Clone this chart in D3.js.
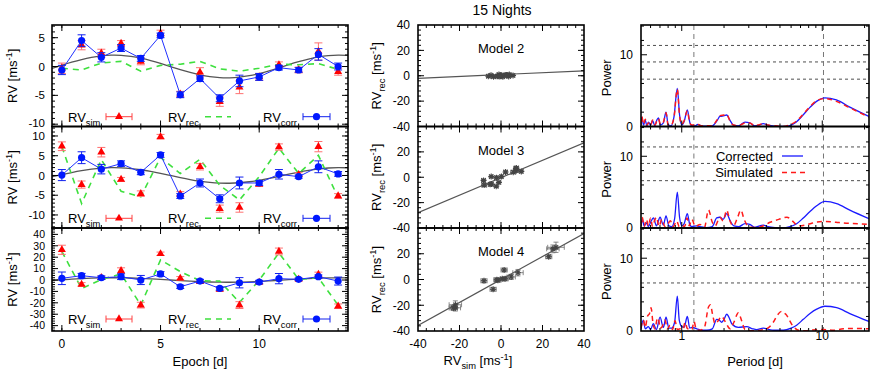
<!DOCTYPE html>
<meta charset="utf-8">
<style>
  body { margin: 0; background: #fff; }
  text { font-family: "Liberation Sans", Arial, sans-serif; fill: #000; }
</style>
<body>
</body>
<script src="https://d3js.org/d3.v7.min.js"></script>
<script>

// ---- data ----
var epochs = [0, 1, 2, 3, 4, 5, 6, 7, 8, 9, 10, 11, 12, 13, 14];
var modelNames = ["Model 2", "Model 3", "Model 4"];

var sim2    = [-0.3, 3.7, 2.3, 4.0, 0.9, 5.8, -4.8, -1.0, -6.1, -3.6, -1.8, 0.3, -0.6, 2.6, -0.9];
var sim2Err = [0.9, 0.8, 0.7, 0.5, 0.6, 0.5, 0.5, 0.8, 0.8, 1.1, 0.6, 0.5, 0.5, 1.5, 0.6];
var corr2   = [-0.6, 4.5, 1.6, 3.2, 1.4, 5.4, -4.9, -2.1, -5.5, -2.5, -1.8, -0.2, -0.6, 2.1, 0.0];
var corr2Err= [0.8, 1.0, 0.8, 0.6, 0.5, 0.4, 0.5, 0.5, 0.6, 1.0, 0.6, 0.4, 0.4, 1.0, 0.6];
var rec2    = [-0.3, -0.6, 0.6, 0.9, -0.8, 0.2, 0.4, 0.9, -0.4, -0.8, -0.3, 0.4, 0.3, 0.5, -0.5];

var sim3    = [7.4, -2.3, 5.9, -1.0, -4.6, 9.8, -4.7, 2.2, -8.4, -8.1, -2.2, 7.2, 0.2, 7.3, -5.2];
var sim3Err = [1.1, 0.9, 1.2, 0.5, 0.7, 0.6, 0.6, 0.8, 0.9, 1.2, 0.6, 0.8, 0.5, 1.3, 0.6];
var corr3   = [0.1, 4.5, 1.6, 3.0, 0.8, 5.2, -5.2, -1.9, -5.9, -1.9, -1.9, 0.3, -0.3, 2.2, 0.4];
var corr3Err= [1.4, 1.5, 1.2, 0.7, 0.6, 0.6, 0.6, 1.0, 1.0, 1.5, 0.6, 1.2, 0.4, 1.5, 0.6];
var rec3    = [7.3, -7.1, 4.0, -4.0, -5.4, 4.6, 0.5, 4.1, -2.5, -6.2, -0.3, 6.9, 0.5, 5.1, -5.6];

var sim4    = [26.5, -3.8, 2.0, 8.2, -22.0, 23.0, 1.5, -1.5, -8.2, -22.0, -2.0, 25.0, 0.6, 4.9, -23.0];
var sim4Err = [4, 1.5, 1.5, 2.5, 2.5, 1.5, 1.5, 1.5, 1.5, 3, 1.5, 3, 1, 2, 2];
var corr4   = [1.5, 3.8, 2.0, 2.9, 0.0, 5.3, -5.9, -0.9, -7.4, -2.4, -1.8, 1.2, 0.6, 2.9, -0.9];
var corr4Err= [5.5, 2, 1.5, 2.5, 4, 2, 1.5, 1.5, 1.5, 4.5, 1.5, 4.5, 1, 1.5, 3.5];
var rec4    = [25.0, -7.6, 0.5, 5.3, -22.0, 17.7, 7.4, -0.6, -1.0, -19.6, -0.2, 23.8, 0.5, 2.0, -22.1];

// grey model curve (same signal in the three left panels)
var curveT = [-0.5, 0, 0.5, 1, 1.5, 2, 2.5, 3, 3.5, 4, 4.5, 5, 5.5, 6, 6.5, 7, 7.5, 8, 8.5, 9, 9.5, 10, 10.5, 11, 11.5, 12, 12.5, 13, 13.5, 14, 14.5];
var curveV = [-0.33, 0.22, 0.75, 1.23, 1.61, 1.87, 1.99, 1.96, 1.78, 1.47, 1.05, 0.55, 0, -0.54, -1.05, -1.47, -1.78, -1.96, -1.99, -1.87, -1.61, -1.23, -0.76, -0.22, 0.33, 0.85, 1.31, 1.69, 1.91, 2.0, 1.94];

// fitted lines in the middle column: value at RV_sim = -40 and +40
var fitLo = [-2.0, -28.0, -35.7];
var fitHi = [3.9, 27.2, 35.7];

// periodograms [period (d), power]
var pgCorr2 = [[0.513,0.3],[0.52,1.3],[0.535,0.2],[0.55,0.9],[0.565,0.1],[0.58,0.6],[0.6,0.2],[0.62,0.8],[0.645,0.1],[0.665,0.9],[0.682,1.2],[0.705,0.2],[0.74,0.5],[0.773,2.0],[0.80,0.3],[0.84,0.1],[0.88,1.3],[0.93,5.3],[0.965,1.6],[1.0,0.2],[1.04,0.7],[1.096,2.3],[1.14,0.6],[1.18,0.1],[1.25,0.1],[1.3,0.3],[1.38,0.1],[1.5,0.05],[1.65,0.1],[1.78,0.8],[1.87,1.4],[2.0,1.5],[2.09,1.6],[2.2,0.9],[2.33,0.2],[2.53,0.1],[2.82,0.6],[3.05,0.5],[3.3,0.1],[3.5,0.15],[3.8,0.4],[4.1,0.2],[4.6,0.05],[5.2,0.0],[5.8,0.1],[6.5,0.6],[7.3,1.6],[8.2,2.7],[9.1,3.5],[10.45,4.0],[12.6,3.7],[15.7,2.7],[21.5,1.4]];
var pgSim2 = [[0.513,0.2],[0.52,1.4],[0.535,0.3],[0.55,1.0],[0.565,0.2],[0.58,0.5],[0.6,0.1],[0.62,0.9],[0.645,0.2],[0.665,0.8],[0.682,1.1],[0.705,0.3],[0.74,0.6],[0.773,1.9],[0.80,0.2],[0.84,0.2],[0.88,1.2],[0.93,5.2],[0.965,1.5],[1.0,0.3],[1.04,0.8],[1.096,2.2],[1.14,0.5],[1.18,0.2],[1.25,0.2],[1.3,0.3],[1.38,0.1],[1.5,0.1],[1.65,0.1],[1.78,0.9],[1.87,1.5],[2.0,1.6],[2.09,1.7],[2.2,0.8],[2.33,0.2],[2.53,0.1],[2.82,0.5],[3.05,0.5],[3.3,0.1],[3.5,0.2],[3.8,0.4],[4.1,0.2],[4.6,0.1],[5.2,0.0],[5.8,0.2],[6.5,0.7],[7.3,1.7],[8.2,2.8],[9.1,3.6],[10.45,3.9],[12.6,3.5],[15.7,2.6],[21.5,1.3]];
var pgCorr3 = [[0.513,0.3],[0.525,1.2],[0.54,0.3],[0.56,0.7],[0.58,0.2],[0.6,0.8],[0.63,1.4],[0.66,0.3],[0.701,1.5],[0.74,0.4],[0.773,1.7],[0.81,0.3],[0.85,0.2],[0.89,1.3],[0.93,5.0],[0.965,1.5],[1.0,0.3],[1.04,0.6],[1.096,2.0],[1.14,0.5],[1.18,0.2],[1.28,0.3],[1.35,0.2],[1.5,0.05],[1.65,0.2],[1.773,1.4],[1.87,1.5],[1.97,1.2],[2.09,2.0],[2.2,1.1],[2.35,0.3],[2.55,0.2],[2.82,0.6],[3.05,0.5],[3.3,0.1],[3.8,0.4],[4.1,0.2],[4.6,0.05],[5.2,0.0],[5.9,0.2],[6.57,0.6],[7.33,1.4],[8.18,2.3],[9.12,3.1],[10.45,3.7],[12.65,3.4],[15.7,2.5],[21.5,1.3]];
var pgSim3 = [[0.513,0.3],[0.523,1.5],[0.54,0.2],[0.56,1.2],[0.58,0.3],[0.60,1.4],[0.62,0.2],[0.64,1.0],[0.66,1.5],[0.69,0.2],[0.72,1.2],[0.76,0.2],[0.80,0.6],[0.83,1.0],[0.87,0.2],[0.92,1.0],[0.96,0.2],[1.0,0.4],[1.05,0.2],[1.09,1.4],[1.13,0.3],[1.18,1.2],[1.25,0.2],[1.35,0.5],[1.45,0.1],[1.55,2.5],[1.65,0.8],[1.73,0.3],[1.87,1.5],[1.97,1.0],[2.09,2.5],[2.2,1.0],[2.33,0.3],[2.5,1.5],[2.63,2.5],[2.78,1.2],[2.9,0.5],[3.15,0.1],[3.41,0.05],[3.8,0.3],[4.25,0.8],[4.9,1.2],[5.6,1.5],[6.2,0.9],[6.75,0.3],[7.5,0.4],[8.2,0.6],[9.2,0.85],[10.4,0.9],[12.5,0.8],[14.1,0.7],[18,0.6],[21.5,0.5]];
var pgCorr4 = [[0.513,0.3],[0.533,1.5],[0.55,0.3],[0.579,0.6],[0.60,0.2],[0.628,1.0],[0.66,0.2],[0.701,1.9],[0.74,0.5],[0.773,1.9],[0.81,0.4],[0.849,0.4],[0.89,1.2],[0.93,4.8],[0.96,1.5],[1.0,0.6],[1.04,0.5],[1.096,2.0],[1.14,0.4],[1.178,0.5],[1.28,0.3],[1.40,0.1],[1.505,0.1],[1.65,0.3],[1.773,1.6],[1.85,1.5],[1.924,1.2],[2.0,1.6],[2.09,2.3],[2.2,1.6],[2.27,1.0],[2.53,0.5],[2.9,0.6],[3.2,0.3],[3.41,0.2],[3.8,0.4],[4.2,0.2],[4.48,0.1],[5.28,0.1],[6.0,0.4],[6.57,0.8],[7.33,1.6],[8.18,2.4],[9.12,3.0],[10.45,3.4],[12.65,3.2],[15.7,2.4],[21.5,1.3]];
var pgSim4 = [[0.513,0.4],[0.533,1.5],[0.55,0.5],[0.57,2.0],[0.59,2.4],[0.605,3.2],[0.625,1.0],[0.646,0.3],[0.665,1.5],[0.682,1.8],[0.70,0.4],[0.72,0.5],[0.76,1.5],[0.79,0.3],[0.826,0.8],[0.86,0.2],[0.896,1.4],[0.93,0.2],[0.973,0.3],[1.02,0.2],[1.056,1.2],[1.1,0.3],[1.146,0.4],[1.18,0.2],[1.223,1.3],[1.27,0.2],[1.35,0.1],[1.45,0.5],[1.55,3.3],[1.6,3.6],[1.66,2.2],[1.725,1.0],[1.8,1.3],[1.924,2.0],[2.05,1.2],[2.21,0.3],[2.35,1.2],[2.53,2.5],[2.68,1.3],[2.82,0.2],[3.1,0.05],[3.41,0.05],[3.8,0.2],[4.02,0.3],[4.48,1.2],[4.8,2.2],[5.14,2.7],[5.5,2.3],[6.22,0.6],[7.0,0.05],[7.8,0.05],[8.5,0.15],[10.2,0.2],[12.0,0.1],[14.1,0.3],[17,0.35],[21.5,0.3]];

var fapLevels = [11.3, 9.0, 6.6];      // horizontal dotted lines
var markPeriods = [1.22, 10.2];        // vertical dashed lines

var sims = [sim2, sim3, sim4], simErrs = [sim2Err, sim3Err, sim4Err];
var corrs = [corr2, corr3, corr4], corrErrs = [corr2Err, corr3Err, corr4Err];
var recs = [rec2, rec3, rec4];
var pgCorr = [pgCorr2, pgCorr3, pgCorr4], pgSim = [pgSim2, pgSim3, pgSim4];

// ---- layout ----
var rowTop = [25, 126.5, 228], rowBot = [126.5, 228, 331];
var leftX = [52, 348], midX = [418, 584], rightX = [641, 869];
var leftYDom = [[-10.4, 7.2], [-13.3, 12.4], [-44.7, 45.6]];
var leftYStep = [[5, 1], [5, 1], [10, 2]];
var leftYLab = [[5, 0, -5, -10], [10, 5, 0, -5, -10], [40, 30, 20, 10, 0, -10, -20, -30, -40]];
var leftYFont = [11.5, 11.5, 10.5];
var legendY = [116.7, 218.3, 319];

var svg = d3.select("body").append("svg")
  .attr("width", 872)
  .attr("height", 371);
var defs = svg.append("defs");

function clip(id, x0, y0, x1, y1) {
  defs.append("clipPath").attr("id", id).append("rect")
    .attr("x", x0).attr("y", y0).attr("width", x1 - x0).attr("height", y1 - y0);
  return "url(#" + id + ")";
}

function richText(parent, x, y, parts, size, anchor, rotate) {
  var t = parent.append("text").attr("font-size", size).attr("text-anchor", anchor || "start");
  if (rotate) t.attr("transform", "translate(" + x + "," + y + ") rotate(-90)");
  else t.attr("x", x).attr("y", y);
  var shift = 0;
  parts.forEach(function(p) {
    var target = p[1] === "sub" ? size * 0.3 : p[1] === "sup" ? -size * 0.4 : 0;
    t.append("tspan").attr("dy", target - shift)
      .attr("font-size", p[1] ? size * 0.72 : size).text(p[0]);
    shift = target;
  });
  return t;
}

// inward ticks on all four sides, gnuplot style
function ticks(xs, ys, xMaj, xMin, yMaj, yMin) {
  var x0 = xs.range()[0], x1 = xs.range()[1], yb = ys.range()[0], yt = ys.range()[1];
  var g = svg.append("g").attr("stroke", "#000").attr("stroke-width", 1);
  function vt(list, len) {
    list.forEach(function(v) {
      var x = xs(v);
      g.append("line").attr("x1", x).attr("x2", x).attr("y1", yb).attr("y2", yb - len);
      g.append("line").attr("x1", x).attr("x2", x).attr("y1", yt).attr("y2", yt + len);
    });
  }
  function ht(list, len) {
    list.forEach(function(v) {
      var y = ys(v);
      g.append("line").attr("x1", x0).attr("x2", x0 + len).attr("y1", y).attr("y2", y);
      g.append("line").attr("x1", x1).attr("x2", x1 - len).attr("y1", y).attr("y2", y);
    });
  }
  vt(xMin, 3); vt(xMaj, 6); ht(yMin, 3); ht(yMaj, 6);
}

function frame(x0, y0, x1, y1) {
  svg.append("rect").attr("x", x0).attr("y", y0).attr("width", x1 - x0).attr("height", y1 - y0)
    .attr("fill", "none").attr("stroke", "#000").attr("stroke-width", 1.6);
}

function inDom(list, dom) {
  var lo = Math.min(dom[0], dom[1]), hi = Math.max(dom[0], dom[1]);
  return list.filter(function(v) { return v > lo + 1e-9 && v < hi - 1e-9; });
}

function vBar(x, y1, y2, c) {
  return "M" + (x - c) + "," + y1 + "H" + (x + c) + "M" + x + "," + y1 + "V" + y2 + "M" + (x - c) + "," + y2 + "H" + (x + c);
}
function hBar(y, x1, x2, c) {
  return "M" + x1 + "," + (y - c) + "V" + (y + c) + "M" + x1 + "," + y + "H" + x2 + "M" + x2 + "," + (y - c) + "V" + (y + c);
}

var triangle = d3.symbol().type(d3.symbolTriangle).size(28);

var xEpoch = d3.scaleLinear().domain([-0.5, 14.5]).range(leftX);
var xSim = d3.scaleLinear().domain([-40, 40]).range(midX);
var xPer = d3.scaleLog().domain([0.513, 21.5]).range(rightX);

// ---- left column: RV time series ----
for (var m = 0; m < 3; m++) {
  var y = d3.scaleLinear().domain(leftYDom[m]).range([rowBot[m], rowTop[m]]);
  var cp = clip("cl" + m, leftX[0], rowTop[m], leftX[1], rowBot[m]);
  var g = svg.append("g").attr("clip-path", cp);

  g.append("path")
    .attr("d", d3.line().curve(d3.curveBasis)
      .x(function(d, i) { return xEpoch(curveT[i]); })
      .y(function(d) { return y(d); })(curveV))
    .attr("fill", "none").attr("stroke", "#555").attr("stroke-width", 1.3);

  g.append("path")
    .attr("d", d3.line().x(function(d, i) { return xEpoch(epochs[i]); }).y(function(d) { return y(d); })(recs[m]))
    .attr("fill", "none").attr("stroke", "#3ee03e").attr("stroke-width", 1.6).attr("stroke-dasharray", "6,5");

  var sim = sims[m], se = simErrs[m], cor = corrs[m], ce = corrErrs[m];

  g.selectAll(".se").data(sim).enter().append("path")
    .attr("d", function(d, i) { return vBar(xEpoch(epochs[i]), y(d + se[i]), y(d - se[i]), 4); })
    .attr("fill", "none").attr("stroke", "#ff7070").attr("stroke-width", 1);
  g.selectAll(".sp").data(sim).enter().append("path")
    .attr("d", triangle)
    .attr("transform", function(d, i) { return "translate(" + xEpoch(epochs[i]) + "," + y(d) + ")"; })
    .attr("fill", "#f00");

  g.append("path")
    .attr("d", d3.line().x(function(d, i) { return xEpoch(epochs[i]); }).y(function(d) { return y(d); })(cor))
    .attr("fill", "none").attr("stroke", "#2030ff").attr("stroke-width", 1);
  g.selectAll(".ce").data(cor).enter().append("path")
    .attr("d", function(d, i) { return vBar(xEpoch(epochs[i]), y(d + ce[i]), y(d - ce[i]), 4); })
    .attr("fill", "none").attr("stroke", "#1020ee").attr("stroke-width", 1);
  g.selectAll(".cp").data(cor).enter().append("circle")
    .attr("cx", function(d, i) { return xEpoch(epochs[i]); })
    .attr("cy", function(d) { return y(d); })
    .attr("r", 3.6).attr("fill", "#0018ff");

  // legend
  var ly = legendY[m];
  richText(svg, 68, ly + 5, [["RV"], ["sim", "sub"]], 13);
  svg.append("path").attr("d", hBar(ly, 106, 132, 3.5)).attr("fill", "none").attr("stroke", "#ff4040");
  svg.append("path").attr("d", triangle).attr("transform", "translate(119," + ly + ")").attr("fill", "#f00");
  richText(svg, 168, ly + 5, [["RV"], ["rec", "sub"]], 13);
  svg.append("line").attr("x1", 205).attr("x2", 231).attr("y1", ly).attr("y2", ly)
    .attr("stroke", "#3ee03e").attr("stroke-width", 1.6).attr("stroke-dasharray", "6,5");
  richText(svg, 263, ly + 5, [["RV"], ["corr", "sub"]], 13);
  svg.append("path").attr("d", hBar(ly, 303, 330, 3.5)).attr("fill", "none").attr("stroke", "#1020ee");
  svg.append("circle").attr("cx", 316.5).attr("cy", ly).attr("r", 3.6).attr("fill", "#0018ff");

  var st = leftYStep[m];
  ticks(xEpoch, y, inDom([0, 5, 10], xEpoch.domain()), inDom(d3.range(0, 15, 1), xEpoch.domain()),
    inDom(d3.range(-50, 51, st[0]), y.domain()), inDom(d3.range(-50, 51, st[1]), y.domain()));
  frame(leftX[0], rowTop[m], leftX[1], rowBot[m]);

  var fs = leftYFont[m];
  svg.selectAll(null).data(leftYLab[m]).enter().append("text")
    .attr("x", 45).attr("y", function(d) { return y(d) + fs * 0.36 + (m === 0 && d === -10 ? -1.5 : 0); })
    .attr("text-anchor", "end").attr("font-size", fs).text(function(d) { return d; });

  richText(svg, 17, (rowTop[m] + rowBot[m]) / 2, [["RV [ms"], ["-1", "sup"], ["]"]], 13, "middle", true);
}

svg.selectAll(null).data([0, 5, 10]).enter().append("text")
  .attr("x", function(d) { return xEpoch(d); }).attr("y", 347.5)
  .attr("text-anchor", "middle").attr("font-size", 12).text(function(d) { return d; });
svg.append("text").attr("x", 200).attr("y", 366).attr("text-anchor", "middle")
  .attr("font-size", 13).text("Epoch [d]");

// ---- middle column: RV_rec vs RV_sim ----
for (var k = 0; k < 3; k++) {
  var yr = d3.scaleLinear().domain([-40, 40]).range([rowBot[k], rowTop[k]]);
  var gm = svg.append("g").attr("clip-path", clip("cm" + k, midX[0], rowTop[k], midX[1], rowBot[k]));

  gm.append("line")
    .attr("x1", xSim(-40)).attr("y1", yr(fitLo[k]))
    .attr("x2", xSim(40)).attr("y2", yr(fitHi[k]))
    .attr("stroke", "#555").attr("stroke-width", 1.2);

  var s = sims[k], e = simErrs[k], r = recs[k];
  gm.selectAll(".xe").data(s).enter().append("path")
    .attr("d", function(d, i) {
      return hBar(yr(r[i]), xSim(d - e[i]), xSim(d + e[i]), 2.5) +
        vBar(xSim(d), yr(r[i] + e[i]), yr(r[i] - e[i]), 2.5);
    })
    .attr("fill", "none").attr("stroke", "#666").attr("stroke-width", 0.9).attr("opacity", 0.85);
  gm.selectAll(".pt").data(s).enter().append("path")
    .attr("d", function(d, i) {
      var cx = xSim(d), cy = yr(r[i]), a = 3;
      return "M" + (cx - a) + "," + cy + "H" + (cx + a) + "M" + cx + "," + (cy - a) + "V" + (cy + a) +
        "M" + (cx - 2.2) + "," + (cy - 2.2) + "L" + (cx + 2.2) + "," + (cy + 2.2) +
        "M" + (cx - 2.2) + "," + (cy + 2.2) + "L" + (cx + 2.2) + "," + (cy - 2.2);
    })
    .attr("fill", "none").attr("stroke", "#444").attr("stroke-width", 1.1);

  ticks(xSim, yr, [-20, 0, 20], inDom(d3.range(-40, 41, 4), [-40, 40]), [-20, 0, 20], inDom(d3.range(-40, 41, 4), [-40, 40]));
  frame(midX[0], rowTop[k], midX[1], rowBot[k]);

  var labs = k === 0 ? [40, 20, 0, -20, -40] : [20, 0, -20, -40];
  svg.selectAll(null).data(labs).enter().append("text")
    .attr("x", 410).attr("y", function(d) { return yr(d) + 4.3; })
    .attr("text-anchor", "end").attr("font-size", 12).text(function(d) { return d; });

  svg.append("text").attr("x", 501).attr("y", rowTop[k] + 28).attr("text-anchor", "middle")
    .attr("font-size", 13).text(modelNames[k]);

  richText(svg, 381, (rowTop[k] + rowBot[k]) / 2, [["RV"], ["rec", "sub"], [" [ms"], ["-1", "sup"], ["]"]], 13, "middle", true);
}

svg.selectAll(null).data([-40, -20, 0, 20, 40]).enter().append("text")
  .attr("x", function(d) { return xSim(d); }).attr("y", 347.5)
  .attr("text-anchor", "middle").attr("font-size", 12).text(function(d) { return d; });
richText(svg, 478, 365, [["RV"], ["sim", "sub"], [" [ms"], ["-1", "sup"], ["]"]], 13, "middle");

svg.append("text").attr("x", 502).attr("y", 15).attr("text-anchor", "middle")
  .attr("font-size", 14).text("15 Nights");

// ---- right column: periodograms ----
var perMinor = [0.6, 0.7, 0.8, 0.9, 2, 3, 4, 5, 6, 7, 8, 9, 20];
for (var p = 0; p < 3; p++) {
  var yp = d3.scaleLinear().domain([0, 14.15]).range([rowBot[p], rowTop[p]]);
  var gp = svg.append("g").attr("clip-path", clip("cp" + p, rightX[0], rowTop[p], rightX[1], rowBot[p]));

  gp.selectAll(".fap").data(fapLevels).enter().append("line")
    .attr("x1", rightX[0]).attr("x2", rightX[1])
    .attr("y1", function(d) { return yp(d); }).attr("y2", function(d) { return yp(d); })
    .attr("stroke", "#222").attr("stroke-width", 0.8).attr("stroke-dasharray", "3,3");
  gp.selectAll(".mk").data(markPeriods).enter().append("line")
    .attr("x1", function(d) { return xPer(d); }).attr("x2", function(d) { return xPer(d); })
    .attr("y1", rowTop[p]).attr("y2", rowBot[p])
    .attr("stroke", "#777").attr("stroke-width", 1).attr("stroke-dasharray", "5,4");

  var line = d3.line().curve(d3.curveMonotoneX)
    .x(function(d) { return xPer(d[0]); }).y(function(d) { return yp(d[1]); });
  gp.append("path").attr("d", line(pgCorr[p]))
    .attr("fill", "none").attr("stroke", "#1a1aff").attr("stroke-width", 1.3);
  gp.append("path").attr("d", line(pgSim[p]))
    .attr("fill", "none").attr("stroke", "#ff1a1a").attr("stroke-width", 1.5).attr("stroke-dasharray", "5,4");

  ticks(xPer, yp, [1, 10], perMinor, [10], [2, 4, 6, 8, 12, 14]);
  frame(rightX[0], rowTop[p], rightX[1], rowBot[p]);

  svg.selectAll(null).data([10, 0]).enter().append("text")
    .attr("x", 633).attr("y", function(d) { return yp(d) + 4.3; })
    .attr("text-anchor", "end").attr("font-size", 12).text(function(d) { return d; });

  svg.append("text")
    .attr("transform", "translate(" + 611 + "," + ((rowTop[p] + rowBot[p]) / 2 + 2) + ") rotate(-90)")
    .attr("text-anchor", "middle").attr("font-size", 13).text("Power");
}

// legend of the periodograms
svg.append("text").attr("x", 773).attr("y", 160.5).attr("text-anchor", "end").attr("font-size", 13).text("Corrected");
svg.append("line").attr("x1", 782).attr("x2", 803).attr("y1", 156).attr("y2", 156)
  .attr("stroke", "#1a1aff").attr("stroke-width", 1.3);
svg.append("text").attr("x", 773).attr("y", 177).attr("text-anchor", "end").attr("font-size", 13).text("Simulated");
svg.append("line").attr("x1", 782).attr("x2", 805).attr("y1", 172.5).attr("y2", 172.5)
  .attr("stroke", "#ff1a1a").attr("stroke-width", 1.5).attr("stroke-dasharray", "5,4");

svg.selectAll(null).data([1, 10]).enter().append("text")
  .attr("x", function(d) { return xPer(d); }).attr("y", 340)
  .attr("text-anchor", "middle").attr("font-size", 12).text(function(d) { return d; });
svg.append("text").attr("x", 755).attr("y", 366).attr("text-anchor", "middle")
  .attr("font-size", 13).text("Period [d]");

</script>
